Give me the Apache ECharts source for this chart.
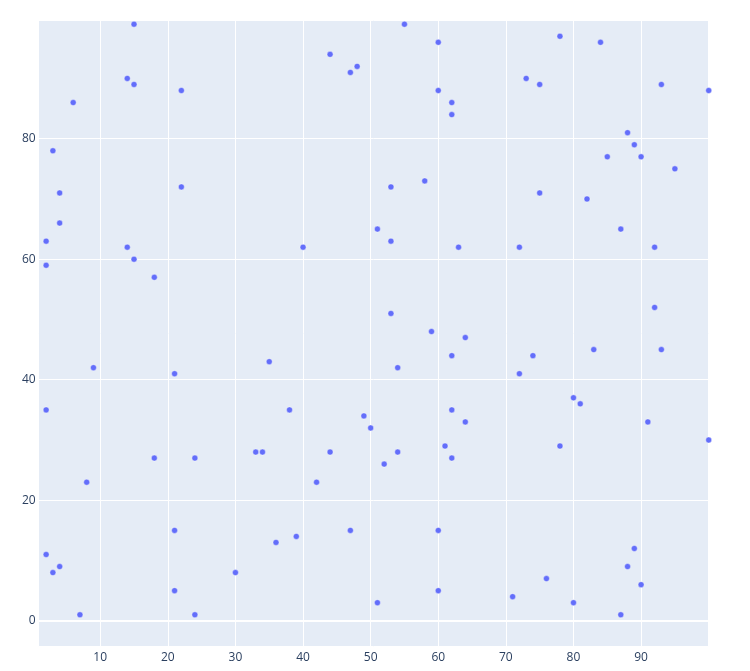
<!DOCTYPE html>
<html>
<head>
<meta charset="utf-8">
<script src="https://cdn.jsdelivr.net/npm/echarts@6/dist/echarts.min.js"></script>
<style>html,body{margin:0;padding:0;background:#fff}#c{width:750px;height:671px}</style>
</head>
<body>
<div id="c"></div>
<script>
const xValues = [15,14,15,22,6,3,4,22,4,2,2,14,15,18,9,21,2,8,18,24,21,2,3,4,7,21,24,30,
  55,60,44,48,47,60,62,62,58,53,51,53,63,40,53,59,64,62,54,35,38,49,62,64,50,33,34,44,54,61,62,52,42,47,60,39,36,60,51,
  78,84,73,75,93,100,88,89,85,90,95,75,82,87,72,92,92,83,93,74,72,80,81,91,100,78,89,88,90,76,71,80,87];
const yValues = [99,90,89,88,86,78,71,72,66,63,59,62,60,57,42,41,35,23,27,27,15,11,8,9,1,5,1,8,
  99,96,94,92,91,88,86,84,73,72,65,63,62,62,51,48,47,44,42,43,35,34,35,33,32,28,28,28,28,29,27,26,23,15,15,14,13,5,3,
  97,96,90,89,89,88,81,79,77,77,75,71,70,65,62,62,52,45,45,44,41,37,36,33,30,29,12,9,6,7,4,3,1];

const points = xValues.map((x, i) => [x, yValues[i]]);
const chart = echarts.init(document.getElementById('c'), null, {renderer: 'canvas'});
const labelStyle = {color: '#2a3f5f', fontFamily: 'Open Sans', fontSize: 12};
chart.setOption({
  animation: false,
  backgroundColor: '#fff',
  grid: {left: 38.7, right: 41.3, top: 20, bottom: 24.3, show: true, backgroundColor: '#E5ECF6', borderWidth: 0},
  xAxis: {
    type: 'value', min: 0.9, max: 100, splitNumber: 10,
    axisLine: {show: false}, axisTick: {show: false},
    splitLine: {show: true, lineStyle: {color: '#fff', width: 1}},
    axisLabel: Object.assign({margin: 5, showMinLabel: false, showMaxLabel: false}, labelStyle)
  },
  yAxis: {
    type: 'value', min: -4.3, max: 99.7, splitNumber: 5,
    axisLine: {show: true, onZero: false, lineStyle: {color: '#fff', width: 0}}, axisTick: {show: false},
    splitLine: {show: true, lineStyle: {color: '#fff', width: 1}},
    axisLabel: Object.assign({margin: 3, showMinLabel: false, showMaxLabel: false}, labelStyle)
  },
  series: [{
    type: 'scatter',
    data: points,
    symbolSize: 6,
    clip: false,
    itemStyle: {color: '#636efa', opacity: 1, borderColor: '#fff', borderWidth: 0.4},
    markLine: {
      silent: true, symbol: 'none', label: {show: false},
      lineStyle: {color: '#fff', width: 2, type: 'solid'},
      data: [{yAxis: 0}]
    }
  }]
});
</script>
</body>
</html>
